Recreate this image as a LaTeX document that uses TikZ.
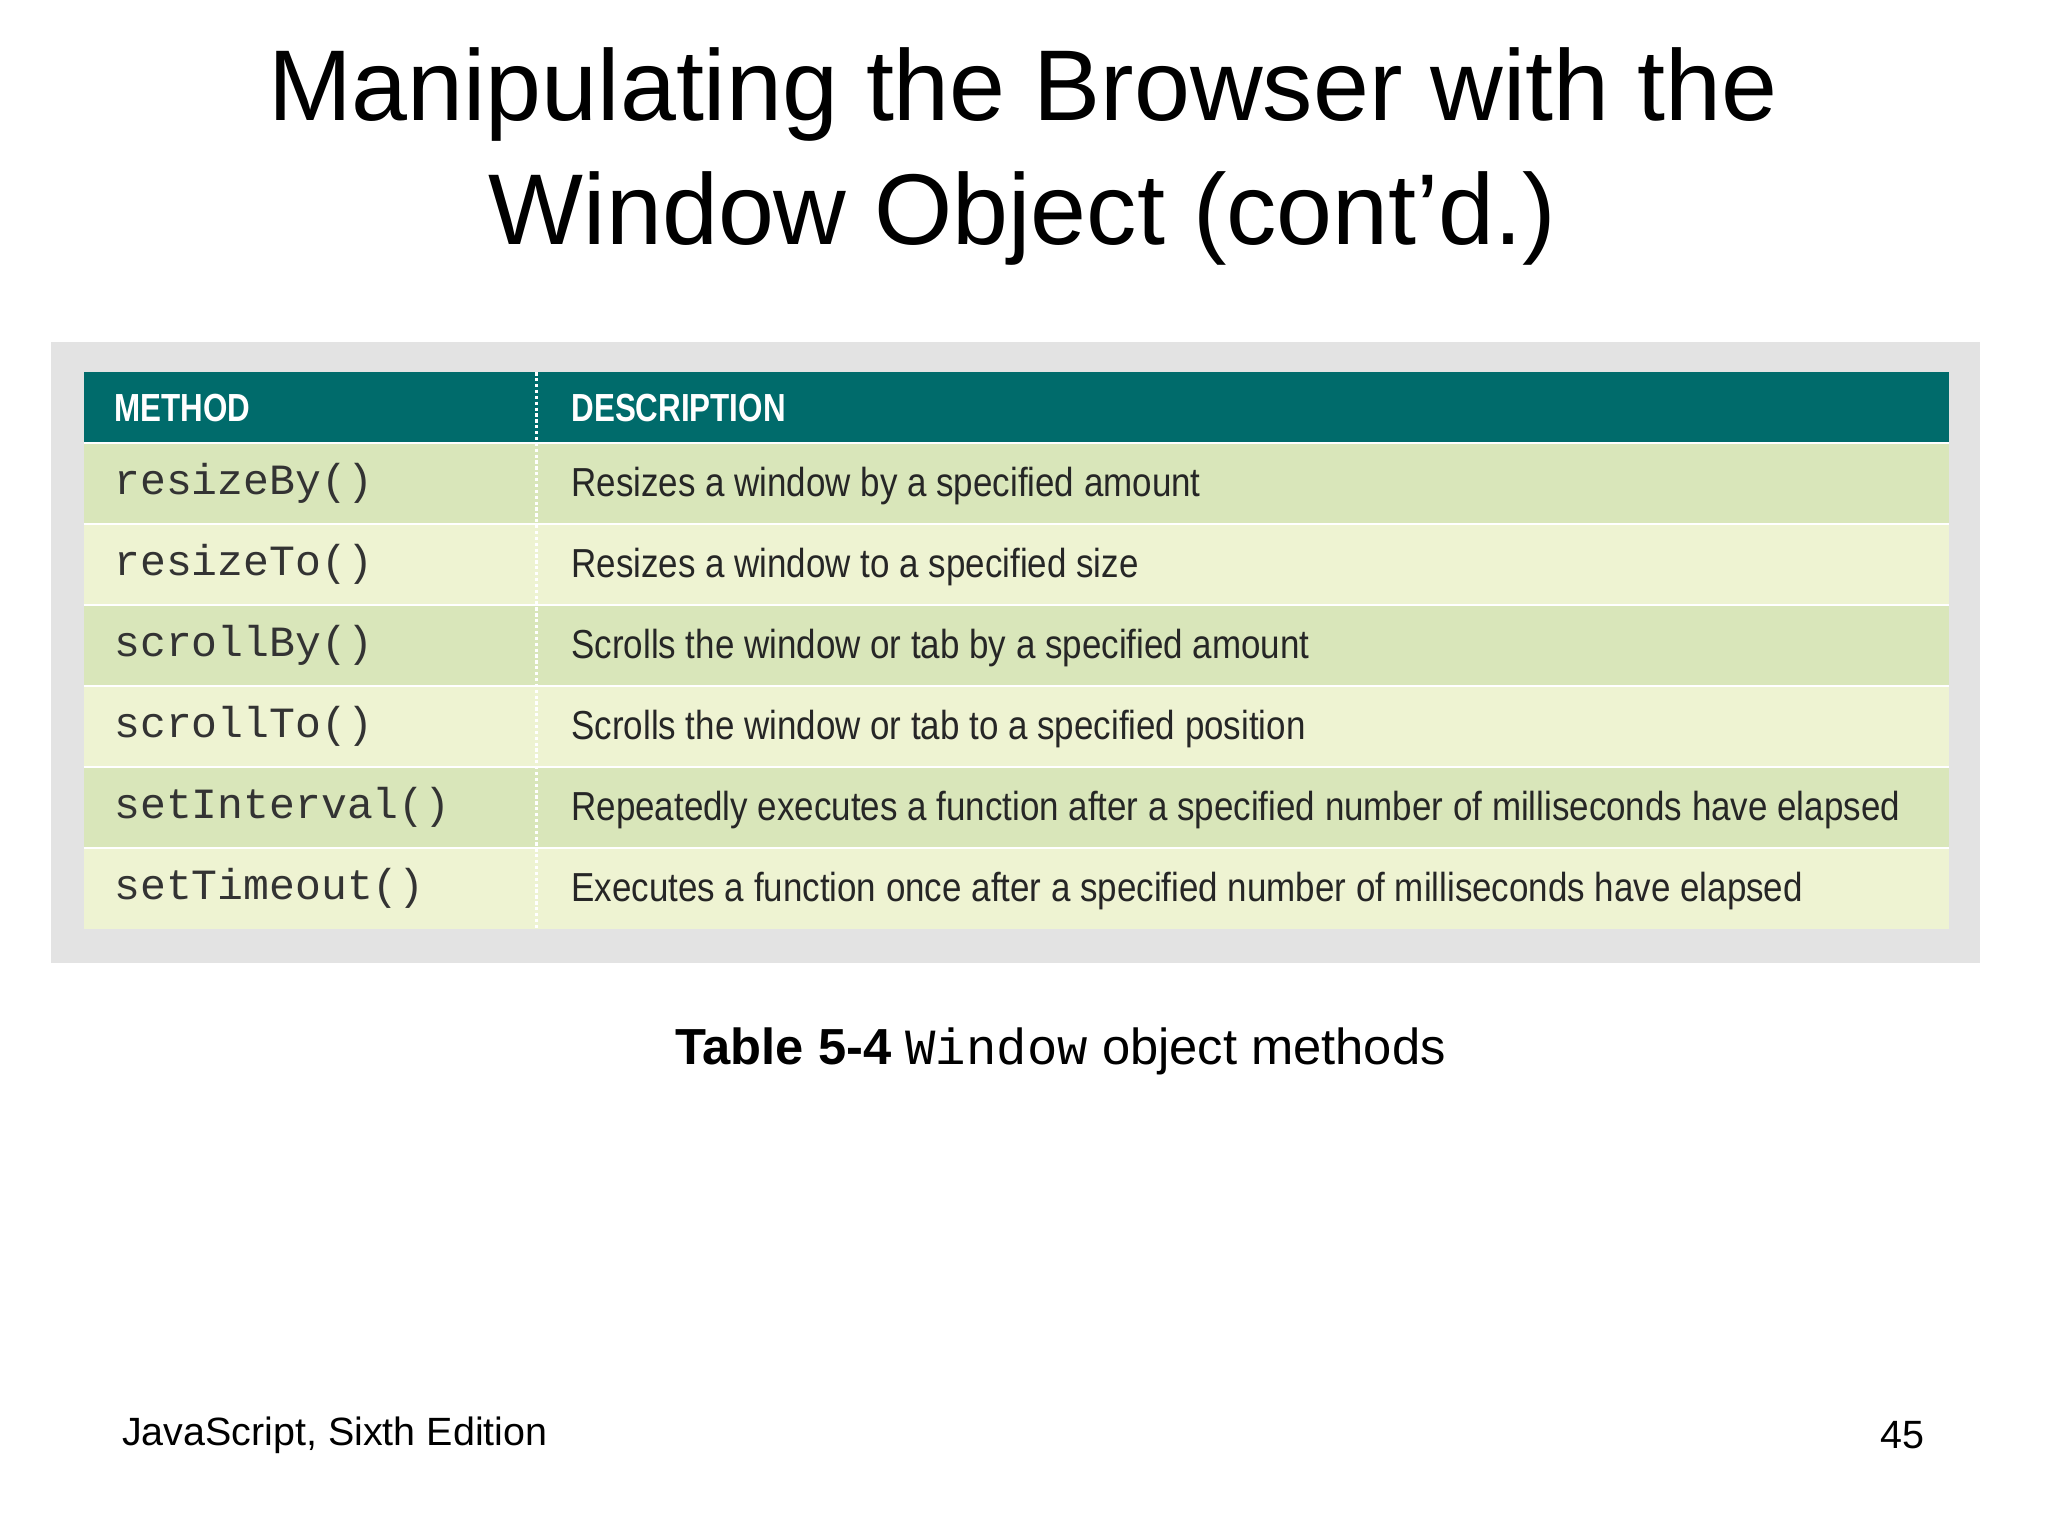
\documentclass[tikz,border=0pt]{standalone}
\usepackage{fontspec}
\setmainfont{Liberation Sans}
\newfontfamily\monof{Liberation Mono}
\definecolor{teal1}{HTML}{006B6B}
\definecolor{rowA}{HTML}{D9E6BA}
\definecolor{rowB}{HTML}{EEF3D2}
\definecolor{grayb}{HTML}{E3E3E3}
\begin{document}
\begin{tikzpicture}[x=1pt,y=-1pt,
  meth/.style={anchor=west,font=\monof\fontsize{33}{33}\selectfont,text=black!80},
  desc/.style={anchor=west,font=\fontsize{31}{31}\selectfont,text=black!85},
  hdr/.style={anchor=west,font=\bfseries\fontsize{30}{30}\selectfont,text=white}]
\useasboundingbox[fill=white] (0,0) rectangle (1568,1176);
\fill[grayb] (39,262) rectangle (1516,737);
\fill[teal1] (64,285) rectangle (1492,339);
\foreach \i/\c in {0/rowA,1/rowB,2/rowA,3/rowB,4/rowA,5/rowB}{
  \fill[\c] (64,339+62*\i) rectangle (1492,401+62*\i);
  \draw[white,line width=1.5] (64,339+62*\i) -- (1492,339+62*\i);
}
\draw[white,dotted,line width=2.5] (411,285) -- (411,711);
\node[hdr] (h1) at (84,312) {\scalebox{0.8}[1]{METHOD}};
\node[hdr] (h2) at (434,312) {\scalebox{0.8}[1]{DESCRIPTION}};
\foreach \i/\m/\d in {0/resizeBy()/Resizes a window by a specified amount,
  1/resizeTo()/Resizes a window to a specified size,
  2/scrollBy()/Scrolls the window or tab by a specified amount,
  3/scrollTo()/Scrolls the window or tab to a specified position,
  4/setInterval()/Repeatedly executes a function after a specified number of milliseconds have elapsed,
  5/setTimeout()/Executes a function once after a specified number of milliseconds have elapsed}{
  \node[meth] (m\i) at (84,370+62*\i) {\m};
  \node[desc] (d\i) at (434,372+62*\i) {\scalebox{0.863}[1]{\d}};
}
\node[font=\fontsize{77}{95}\selectfont,align=center] (title) at (783,120) {Manipulating the Browser with the\\Window Object (cont’d.)};
\node[font=\fontsize{38.8}{38.8}\selectfont] (cap) at (812,805) {\textbf{Table 5-4} {\monof Window} object methods};
\node[anchor=west,font=\fontsize{30.2}{30.2}\selectfont] (foot) at (90,1099) {JavaScript, Sixth Edition};
\node[anchor=east,font=\fontsize{30.2}{30.2}\selectfont] (pg) at (1477,1099) {45};
\end{tikzpicture}
\end{document}
